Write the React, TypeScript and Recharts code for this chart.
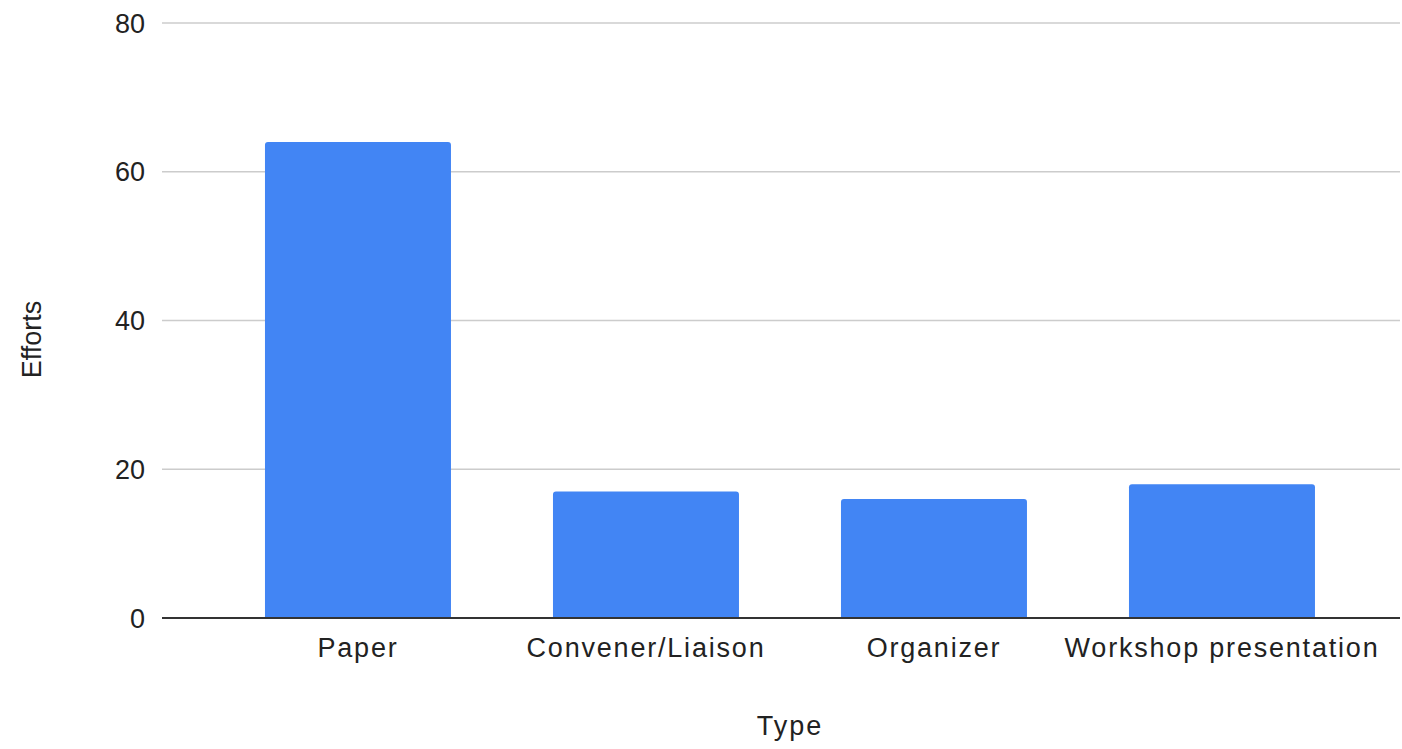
import React from 'react';
import { BarChart, Bar, XAxis, YAxis, CartesianGrid, Label } from 'recharts';

const categories = ['Paper', 'Convener/Liaison', 'Organizer', 'Workshop presentation'];
const efforts = [64, 17, 16, 18];
const yTicks = [0, 20, 40, 60, 80];

const data = categories.map((type, i) => ({ type, efforts: efforts[i] }));

const FONT = '"Liberation Sans", Arial, sans-serif';
const TEXT = '#222222';
const PAD_LEFT = 52;
const PAD_RIGHT = 34;

const XTitle = (props: any) => {
  const vb = props.viewBox || {};
  const cx = vb.x + vb.width / 2 + (PAD_LEFT - PAD_RIGHT) / 2;
  return (
    <text x={cx} y={vb.y + 117} textAnchor="middle" fill={TEXT} fontSize={27} fontFamily={FONT} letterSpacing={2}>
      Type
    </text>
  );
};

const YTitle = (props: any) => {
  const vb = props.viewBox || {};
  const cx = vb.x + 32;
  const cy = vb.y + vb.height / 2 + 19;
  return (
    <text
      x={cx}
      y={cy}
      transform={`rotate(-90, ${cx}, ${cy})`}
      textAnchor="middle"
      dominantBaseline="central"
      fill={TEXT}
      fontSize={27}
      fontFamily={FONT}
    >
      Efforts
    </text>
  );
};

export default function App() {
  return (
    <div style={{ position: 'absolute', left: 0, top: 0, background: '#fff' }}>
      <BarChart
        width={1402}
        height={749}
        data={data}
        margin={{ top: 23, right: 2, bottom: 0, left: 0 }}
        barCategoryGap="17.7%"
        style={{ fontFamily: FONT }}
      >
        <CartesianGrid vertical={false} stroke="#cccccc" strokeWidth={1.5} />
        <XAxis
          dataKey="type"
          height={131}
          padding={{ left: PAD_LEFT, right: PAD_RIGHT }}
          tickLine={false}
          tickSize={0}
          tickMargin={20}
          axisLine={{ stroke: '#333333', strokeWidth: 2 }}
          tick={{ fill: TEXT, fontSize: 27, fontFamily: FONT, letterSpacing: 1.8 }}
          interval={0}
        >
          <Label content={<XTitle />} />
        </XAxis>
        <YAxis
          width={162}
          domain={[0, 80]}
          ticks={yTicks}
          axisLine={false}
          tickLine={false}
          tickSize={0}
          tickMargin={17}
          tick={{ fill: TEXT, fontSize: 27, fontFamily: FONT }}
        >
          <Label content={<YTitle />} />
        </YAxis>
        <Bar dataKey="efforts" fill="#4285F4" radius={[3, 3, 0, 0]} isAnimationActive={false} />
      </BarChart>
    </div>
  );
}
